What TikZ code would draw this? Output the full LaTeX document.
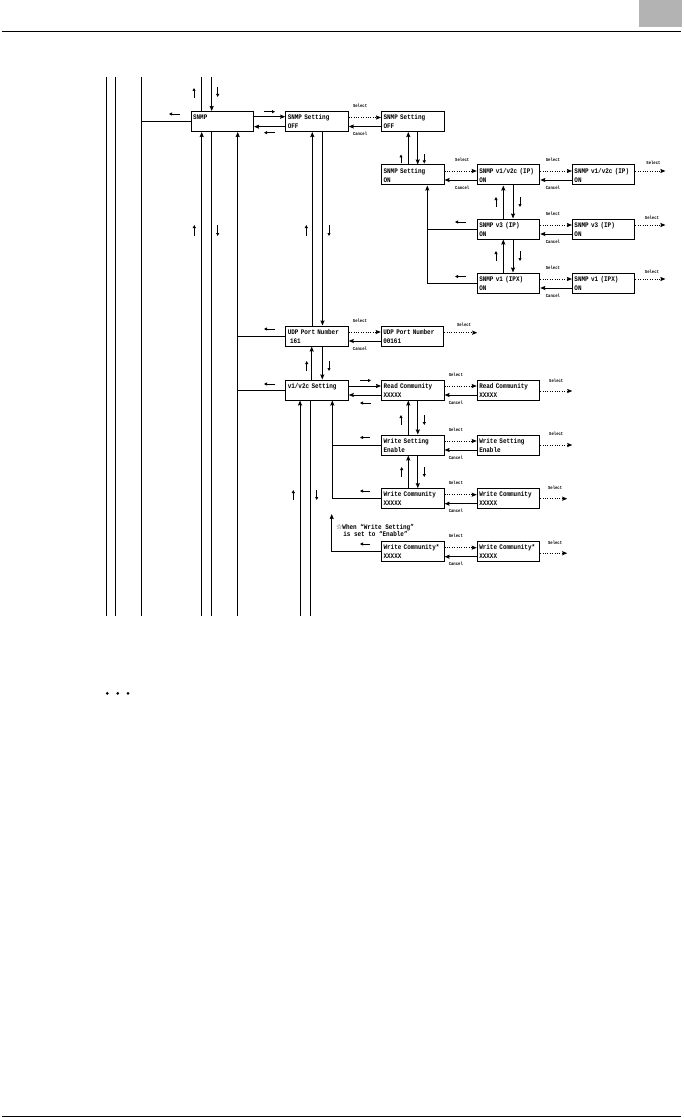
\documentclass[tikz,border=0pt]{standalone}
\usepackage{fontspec}
\newfontfamily\boxfont[FakeStretch=0.85]{Liberation Mono Bold}
\newfontfamily\starfont{DejaVu Sans}
\usepackage{xcolor}
\definecolor{tabGray}{RGB}{179,179,179}
\usepackage{tikz}
\usetikzlibrary{
    arrows.meta,
    positioning,
    calc
}

\begin{document}
\begin{tikzpicture}[
    x=1pt, y=-1pt,
    menuBox/.style={
        rectangle, draw, line width=1pt,
        minimum width=62.5pt, minimum height=20pt,
        text width=58.5pt, inner sep=2pt, align=left,
        font=\boxfont\fontsize{7}{9}\selectfont
    },
    busLine/.style={
        line width=0.9pt
    },
    moveArr/.style={
        -{Stealth[length=5pt,width=4pt,inset=0.6pt]}, line width=0.9pt
    },
    selMsg/.style={
        -{Stealth[length=5pt,width=4pt,inset=0.6pt]}, line width=0.9pt,
        dash pattern=on 1pt off 1.4pt
    },
    canMsg/.style={
        -{Stealth[length=5pt,width=4pt,inset=0.6pt]}, line width=0.9pt
    },
    tickArr/.style={
        -{Triangle[length=3pt,width=3pt]}, line width=0.75pt
    },
    keyLabel/.style={
        font=\boxfont\fontsize{4.6}{5}\selectfont, inner sep=0.5pt
    },
    noteText/.style={
        font=\boxfont\fontsize{7}{7}\selectfont, align=left, inner sep=0pt
    }
]
    \useasboundingbox (0,0) rectangle (683,1118);

    % Page header and footer
    \fill[tabGray] (639,0) rectangle (681.7,26.7);
    \draw[line width=1.2pt] (2,31.7) -- (680.7,31.7);
    \draw[line width=1.2pt] (2,1116.5) -- (680.7,1116.5);

    % Menu boxes
    \node[menuBox] (snmp) at (222.3,121.5) {SNMP\\\mbox{}};
    \node[menuBox] (snmpOff) at (317,121.5) {SNMP Setting\\OFF};
    \node[menuBox] (snmpOff2) at (412.8,121.5) {SNMP Setting\\OFF};
    \node[menuBox] (snmpOn) at (412.8,175) {SNMP Setting\\ON};
    \node[menuBox] (v1v2cIP) at (508.5,175) {SNMP v1/v2c (IP)\\ON};
    \node[menuBox] (v1v2cIP2) at (603.7,175) {SNMP v1/v2c (IP)\\ON};
    \node[menuBox] (v3IP) at (508.5,229) {SNMP v3 (IP)\\ON};
    \node[menuBox] (v3IP2) at (603.7,229) {SNMP v3 (IP)\\ON};
    \node[menuBox] (v1IPX) at (508.5,283) {SNMP v1 (IPX)\\ON};
    \node[menuBox] (v1IPX2) at (603.7,283) {SNMP v1 (IPX)\\ON};
    \node[menuBox] (udp) at (317,336) {UDP Port Number\\\ 161};
    \node[menuBox] (udp2) at (412.5,336) {UDP Port Number\\00161};
    \node[menuBox] (v1v2c) at (317,390) {v1/v2c Setting\\\mbox{}};
    \node[menuBox] (readComm) at (412.8,390) {Read Community\\XXXXX};
    \node[menuBox] (readComm2) at (508.5,390) {Read Community\\XXXXX};
    \node[menuBox] (writeSet) at (412.8,445) {Write Setting\\Enable};
    \node[menuBox] (writeSet2) at (508.5,445) {Write Setting\\Enable};
    \node[menuBox] (writeComm) at (412.8,498.7) {Write Community\\XXXXX};
    \node[menuBox] (writeComm2) at (508.5,498.7) {Write Community\\XXXXX};
    \node[menuBox] (writeCommS) at (412.8,551.7) {Write Community*\\XXXXX};
    \node[menuBox] (writeCommS2) at (508.5,551.7) {Write Community*\\XXXXX};

    \node[noteText, anchor=west] (writeNote) at (336,530.5)
        {{\starfont ☆}When “Write Setting”\\\ \ is set to “Enable”};

    % Rails from the previous level
    \draw[busLine] (106.7,77) -- (106.7,615.7);
    \draw[busLine] (115.5,77) -- (115.5,615.7);
    \draw[busLine] (141.5,77) -- (141.5,615.7);
    \coordinate (railC) at (141.5,121.5);
    \draw[busLine] (snmp.west) -- (railC);

    % SNMP entry lines
    \coordinate (snmpTopUp) at (201.7,77);
    \coordinate (snmpTopDn) at (211.7,77);
    \coordinate (snmpBotUp) at (201.7,615.7);
    \coordinate (snmpBotDn) at (211.7,615.7);
    \coordinate (snmpBus) at (237.7,615.7);
    \draw[busLine] (snmp.north -| snmpTopUp) -- (snmpTopUp);
    \draw[moveArr] (snmpTopDn) -- (snmp.north -| snmpTopDn);
    \draw[moveArr] (snmpBotUp) -- (snmp.south -| snmpBotUp);
    \draw[busLine] (snmp.south -| snmpBotDn) -- (snmpBotDn);
    \draw[moveArr] (snmpBus) -- (snmp.south -| snmpBus);
    \draw[busLine] (udp.west) -- (udp.west -| snmpBus);
    \draw[busLine] (v1v2c.west) -- (v1v2c.west -| snmpBus);

    % SNMP <-> SNMP Setting
    \draw[moveArr] ([yshift=4.8pt]snmp.east) -- ([yshift=4.8pt]snmpOff.west);
    \draw[moveArr] ([yshift=-5.2pt]snmpOff.west) -- ([yshift=-5.2pt]snmp.east);

    % Vertical moves in column A
    \draw[moveArr] ([xshift=-4.7pt]udp.north) -- ([xshift=-4.7pt]snmpOff.south);
    \draw[moveArr] ([xshift=5.5pt]snmpOff.south) -- ([xshift=5.5pt]udp.north);
    \draw[moveArr] ([xshift=-5.3pt]v1v2c.north) -- ([xshift=-5.3pt]udp.south);
    \draw[moveArr] ([xshift=5.3pt]udp.south) -- ([xshift=5.3pt]v1v2c.north);

    % v1/v2c Setting lines
    \coordinate (cfgUp) at (300,615.7);
    \coordinate (cfgDn) at (310.7,615.7);
    \coordinate (cfgBus) at (332.3,498.7);
    \draw[moveArr] (cfgUp) -- (v1v2c.south -| cfgUp);
    \draw[busLine] (v1v2c.south -| cfgDn) -- (cfgDn);
    \draw[moveArr] (cfgBus) -- (v1v2c.south -| cfgBus);
    \draw[busLine] (writeSet.west) -- (writeSet.west -| cfgBus);
    \draw[busLine] (writeComm.west) -- (cfgBus);
    \coordinate (starBus) at (331.7,551.7);
    \coordinate (starTip) at (331.7,514);
    \draw[moveArr] (writeCommS.west) -- (starBus) -- (starTip);
    \draw[moveArr] ([yshift=4pt]v1v2c.east) -- ([yshift=4pt]readComm.west);
    \draw[moveArr] ([yshift=-5pt]readComm.west) -- ([yshift=-5pt]v1v2c.east);

    % Vertical moves in column B
    \draw[moveArr] ([xshift=-4.5pt]snmpOn.north) -- ([xshift=-4.5pt]snmpOff2.south);
    \draw[moveArr] ([xshift=4.9pt]snmpOff2.south) -- ([xshift=4.9pt]snmpOn.north);
    \draw[moveArr] ([xshift=-4.5pt]writeSet.north) -- ([xshift=-4.5pt]readComm.south);
    \draw[moveArr] ([xshift=5pt]readComm.south) -- ([xshift=5pt]writeSet.north);
    \draw[moveArr] ([xshift=-4.5pt]writeComm.north) -- ([xshift=-4.5pt]writeSet.south);
    \draw[moveArr] ([xshift=5pt]writeSet.south) -- ([xshift=5pt]writeComm.north);

    % SNMP Setting ON lines
    \coordinate (onBus) at (427.3,283);
    \draw[moveArr] (onBus) -- (snmpOn.south -| onBus);
    \draw[busLine] (v3IP.west) -- (v3IP.west -| onBus);
    \draw[busLine] (v1IPX.west) -- (onBus);

    % Vertical moves in column C
    \draw[moveArr] ([xshift=-5.2pt]v3IP.north) -- ([xshift=-5.2pt]v1v2cIP.south);
    \draw[moveArr] ([xshift=4.5pt]v1v2cIP.south) -- ([xshift=4.5pt]v3IP.north);
    \draw[moveArr] ([xshift=-5.2pt]v1IPX.north) -- ([xshift=-5.2pt]v3IP.south);
    \draw[moveArr] ([xshift=4.5pt]v3IP.south) -- ([xshift=4.5pt]v1IPX.north);

    % Select / Cancel pairs
    \draw[selMsg] ([yshift=4pt]snmpOff.east) -- node[keyLabel, above=9pt, pos=0.35] {Select} ([yshift=4pt]snmpOff2.west);
    \draw[canMsg] ([yshift=-5pt]snmpOff2.west) -- node[keyLabel, below=5pt, pos=0.65] {Cancel} ([yshift=-5pt]snmpOff.east);
    \draw[selMsg] ([yshift=4pt]snmpOn.east) -- node[keyLabel, above=9pt, pos=0.55] {Select} ([yshift=4pt]v1v2cIP.west);
    \draw[canMsg] ([yshift=-5pt]v1v2cIP.west) -- node[keyLabel, below=5pt, pos=0.45] {Cancel} ([yshift=-5pt]snmpOn.east);
    \draw[selMsg] ([yshift=4pt]v1v2cIP.east) -- node[keyLabel, above=9pt, pos=0.4] {Select} ([yshift=4pt]v1v2cIP2.west);
    \draw[canMsg] ([yshift=-5pt]v1v2cIP2.west) -- node[keyLabel, below=5pt, pos=0.6] {Cancel} ([yshift=-5pt]v1v2cIP.east);
    \draw[selMsg] ([yshift=4pt]v3IP.east) -- node[keyLabel, above=9pt, pos=0.4] {Select} ([yshift=4pt]v3IP2.west);
    \draw[canMsg] ([yshift=-5pt]v3IP2.west) -- node[keyLabel, below=5pt, pos=0.6] {Cancel} ([yshift=-5pt]v3IP.east);
    \draw[selMsg] ([yshift=4pt]v1IPX.east) -- node[keyLabel, above=9pt, pos=0.4] {Select} ([yshift=4pt]v1IPX2.west);
    \draw[canMsg] ([yshift=-5pt]v1IPX2.west) -- node[keyLabel, below=5pt, pos=0.6] {Cancel} ([yshift=-5pt]v1IPX.east);
    \draw[selMsg] ([yshift=4pt]udp.east) -- node[keyLabel, above=9pt, pos=0.35] {Select} ([yshift=4pt]udp2.west);
    \draw[canMsg] ([yshift=-5pt]udp2.west) -- node[keyLabel, below=5pt, pos=0.65] {Cancel} ([yshift=-5pt]udp.east);
    \draw[selMsg] ([yshift=4pt]readComm.east) -- node[keyLabel, above=9pt, pos=0.35] {Select} ([yshift=4pt]readComm2.west);
    \draw[canMsg] ([yshift=-5pt]readComm2.west) -- node[keyLabel, below=5pt, pos=0.65] {Cancel} ([yshift=-5pt]readComm.east);
    \draw[selMsg] ([yshift=4pt]writeSet.east) -- node[keyLabel, above=9pt, pos=0.35] {Select} ([yshift=4pt]writeSet2.west);
    \draw[canMsg] ([yshift=-5pt]writeSet2.west) -- node[keyLabel, below=5pt, pos=0.65] {Cancel} ([yshift=-5pt]writeSet.east);
    \draw[selMsg] ([yshift=4pt]writeComm.east) -- node[keyLabel, above=9pt, pos=0.35] {Select} ([yshift=4pt]writeComm2.west);
    \draw[canMsg] ([yshift=-5pt]writeComm2.west) -- node[keyLabel, below=5pt, pos=0.65] {Cancel} ([yshift=-5pt]writeComm.east);
    \draw[selMsg] ([yshift=4pt]writeCommS.east) -- node[keyLabel, above=9pt, pos=0.35] {Select} ([yshift=4pt]writeCommS2.west);
    \draw[canMsg] ([yshift=-5pt]writeCommS2.west) -- node[keyLabel, below=5pt, pos=0.65] {Cancel} ([yshift=-5pt]writeCommS.east);

    % Select onward
    \draw[selMsg] ([yshift=4pt]v1v2cIP2.east) -- node[keyLabel, above=6pt, pos=0.6] {Select} ++(30,0) coordinate (v1v2cIPOut);
    \draw[selMsg] ([yshift=4pt]v3IP2.east) -- node[keyLabel, above=5pt, pos=0.55] {Select} ++(30,0) coordinate (v3IPOut);
    \draw[selMsg] ([yshift=4pt]v1IPX2.east) -- node[keyLabel, above=5pt, pos=0.55] {Select} ++(30,0) coordinate (v1IPXOut);
    \draw[selMsg] ([yshift=3.3pt]udp2.east) -- node[keyLabel, above=5pt, pos=0.6] {Select} ++(33,0) coordinate (udpOut);
    \draw[selMsg] ([yshift=-1pt]readComm2.east) -- node[keyLabel, above=8pt, pos=0.5] {Select} ++(32,0) coordinate (readCommOut);
    \draw[selMsg] (writeSet2.east) -- node[keyLabel, above=9pt, pos=0.5] {Select} ++(32,0) coordinate (writeSetOut);
    \draw[selMsg] (writeComm2.east) -- node[keyLabel, above=8pt, pos=0.55] {Select} ++(27,0) coordinate (writeCommOut);
    \draw[selMsg] ([yshift=-1.5pt]writeCommS2.east) -- node[keyLabel, above=8pt, pos=0.55] {Select} ++(27,0) coordinate (writeCommSOut);

    % Small direction marks
    \draw[tickArr] (194,98) -- (194,88);
    \draw[tickArr] (217.7,87) -- (217.7,97);
    \draw[tickArr] (194.3,236) -- (194.3,225);
    \draw[tickArr] (217.7,225) -- (217.7,236);
    \draw[tickArr] (306.3,236) -- (306.3,225);
    \draw[tickArr] (329,225) -- (329,236);
    \draw[tickArr] (306.7,371) -- (306.7,361);
    \draw[tickArr] (329,361) -- (329,371);
    \draw[tickArr] (293.3,500) -- (293.3,490);
    \draw[tickArr] (316.7,490) -- (316.7,500);
    \draw[tickArr] (401,163.5) -- (401,154.5);
    \draw[tickArr] (424.3,154.5) -- (424.3,163.5);
    \draw[tickArr] (496,207) -- (496,197);
    \draw[tickArr] (520,197) -- (520,207);
    \draw[tickArr] (496,261) -- (496,251);
    \draw[tickArr] (520,251) -- (520,261);
    \draw[tickArr] (401,425) -- (401,415);
    \draw[tickArr] (424.3,415) -- (424.3,425);
    \draw[tickArr] (401.7,477) -- (401.7,467);
    \draw[tickArr] (424.3,467) -- (424.3,477);
    \draw[tickArr] (180,114) -- (169,114);
    \draw[tickArr] (264,111.7) -- (275,111.7);
    \draw[tickArr] (275,132.7) -- (264,132.7);
    \draw[tickArr] (275,329) -- (264,329);
    \draw[tickArr] (275,384) -- (264,384);
    \draw[tickArr] (360,380.5) -- (371,380.5);
    \draw[tickArr] (371,403) -- (360,403);
    \draw[tickArr] (466,222) -- (455,222);
    \draw[tickArr] (466,276.5) -- (455,276.5);
    \draw[tickArr] (370,437.5) -- (360,437.5);
    \draw[tickArr] (370,491) -- (360,491);
    \draw[tickArr] (370,544) -- (360,544);

    % Continuation dots
    \fill (107.3,693.3) circle (1.5pt);
    \fill (117.7,693.3) circle (1.5pt);
    \fill (128,693.3) circle (1.5pt);

\end{tikzpicture}
\end{document}
